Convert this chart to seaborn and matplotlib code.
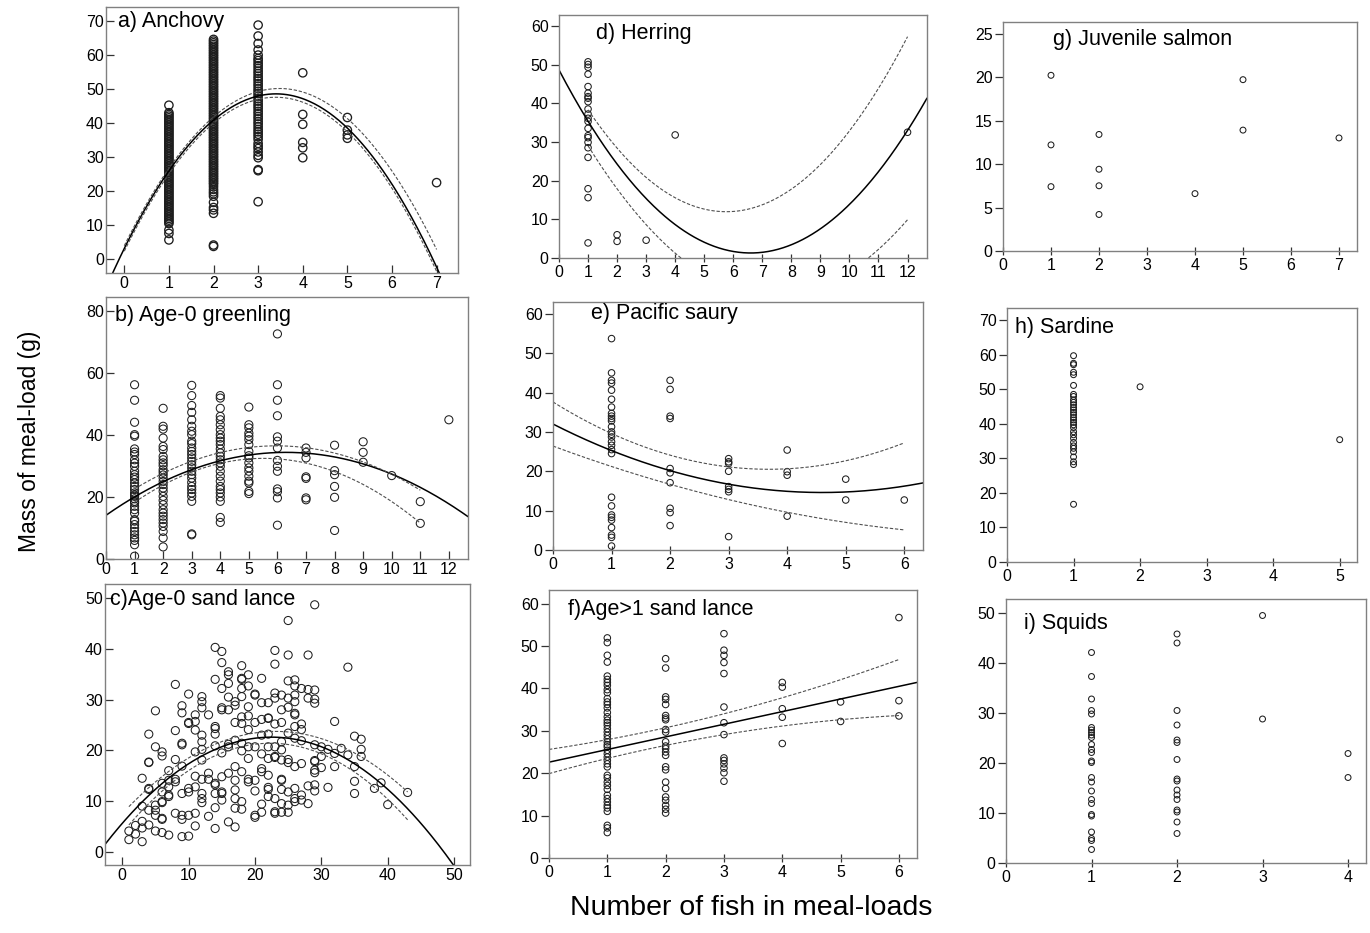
import numpy as np
import pandas as pd
import matplotlib
matplotlib.use("Agg")
import matplotlib.pyplot as plt
import seaborn as sns

# ---------------- DATA ----------------
# a) Anchovy : meal-load mass (g) by number of fish
anchovy = {
    1: [45.2, 43.0, 42.5, 42.0, 41.5, 41.0, 40.5, 40.0, 39.5, 39.0, 38.5, 38.0, 37.5, 37.0, 36.5, 36.0,
        35.5, 35.0, 34.5, 34.0, 33.5, 33.0, 32.5, 32.0, 31.5, 31.0, 30.5, 30.0, 29.5, 29.0, 28.5, 28.0,
        27.5, 27.0, 26.5, 26.0, 25.5, 25.0, 24.5, 24.0, 23.5, 23.0, 22.5, 22.0, 21.5, 21.0, 20.5, 20.0,
        19.5, 19.0, 18.5, 18.0, 17.5, 17.0, 16.5, 16.0, 15.5, 15.0, 14.5, 14.0, 13.5, 13.0, 12.5, 12.0,
        11.5, 11.0, 10.5, 8.6, 7.6, 5.7],
    2: [64.5, 64.0, 63.5, 63.0, 62.5, 62.0, 61.5, 61.0, 60.5, 60.0, 59.5, 59.0, 58.5, 58.0, 57.5, 57.0,
        56.5, 56.0, 55.5, 55.0, 54.5, 54.0, 53.5, 53.0, 52.5, 52.0, 51.5, 51.0, 50.5, 50.0, 49.5, 49.0,
        48.5, 48.0, 47.5, 47.0, 46.5, 46.0, 45.5, 45.0, 44.5, 44.0, 43.5, 43.0, 42.5, 42.0, 41.5, 41.0,
        40.5, 40.0, 39.5, 39.0, 38.5, 38.0, 37.5, 37.0, 36.5, 36.0, 35.5, 35.0, 34.5, 34.0, 33.5, 33.0,
        32.5, 32.0, 31.5, 31.0, 30.5, 30.0, 29.5, 29.0, 28.5, 28.0, 27.5, 27.0, 26.5, 26.0, 25.5, 25.0,
        24.5, 24.0, 23.5, 23.0, 22.5, 22.0, 21.3, 20.5, 19.8, 19.2, 18.5, 16.7, 15.2, 14.5, 13.5, 4.2, 3.8],
    3: [68.7, 65.5, 63.3, 61.4, 59.9, 58.9, 58.3, 57.5, 56.8, 56.0, 55.2, 54.5, 53.7, 53.0, 52.3, 51.5,
        50.8, 50.0, 49.3, 48.6, 47.9, 47.1, 46.4, 45.6, 44.9, 44.2, 43.4, 42.7, 41.9, 41.2, 40.4, 39.7,
        38.9, 38.1, 37.4, 36.7, 36.0, 35.2, 34.0, 33.2, 32.5, 31.5, 30.5, 29.8, 26.3, 26.0, 16.9],
    4: [54.7, 42.5, 39.6, 34.3, 32.7, 29.8],
    5: [41.6, 37.9, 36.5, 35.5],
    7: [22.5],
}
# b) Age-0 greenling
greenling = {
    1: [56.2, 51.2, 44.1, 40.1, 39.6, 35.5, 34.5, 33.7, 32.0, 30.9, 29.9, 28.3, 27.2, 26.4, 25.6, 24.5,
        23.4, 22.4, 21.3, 20.6, 20.2, 19.4, 18.6, 18.1, 17.0, 15.9, 14.8, 12.7, 12.2, 11.1, 10.0, 8.9,
        7.8, 6.8, 6.0, 4.6, 0.9],
    2: [48.6, 42.8, 41.9, 39.0, 36.3, 35.3, 33.1, 32.0, 31.0, 30.1, 28.8, 28.0, 27.1, 26.1, 25.0, 24.0,
        22.9, 21.8, 20.2, 18.9, 17.5, 15.9, 14.8, 13.8, 12.7, 11.6, 10.5, 8.9, 6.8, 3.9],
    3: [56.0, 52.7, 49.5, 47.3, 44.9, 42.8, 41.2, 40.1, 38.0, 37.2, 35.8, 34.7, 33.7, 32.6, 31.5, 30.4,
        29.4, 28.3, 27.2, 26.1, 24.7, 23.4, 22.4, 21.3, 20.2, 18.6, 8.1, 7.8],
    4: [52.7, 51.9, 48.6, 46.0, 44.9, 43.3, 41.7, 40.1, 39.0, 38.0, 36.9, 35.5, 34.2, 33.1, 32.0, 31.0,
        29.9, 28.3, 26.7, 25.1, 23.4, 22.4, 21.3, 20.0, 18.6, 13.4, 11.8],
    5: [49.0, 43.3, 42.3, 40.6, 39.6, 38.5, 36.9, 34.7, 33.3, 32.6, 31.0, 29.4, 28.3, 26.7, 25.1, 24.5,
        21.8, 21.1],
    6: [72.6, 56.2, 51.2, 46.2, 39.4, 38.0, 35.8, 31.8, 29.9, 28.3, 22.6, 21.7, 19.7, 10.9],
    7: [35.8, 34.4, 32.6, 26.5, 26.0, 19.7, 19.1],
    8: [36.7, 28.5, 27.2, 23.4, 19.9, 9.2],
    9: [37.8, 34.4, 31.2],
    10: [26.9],
    11: [18.5, 11.5],
    12: [44.9],
}
# c) Age-0 sand lance
sandlance0 = {
    1: [4.1, 2.4], 2: [3.5, 5.2], 3: [2.0, 4.7, 6.0, 9.0, 14.5],
    4: [5.3, 8.2, 12.3, 12.5, 17.6, 17.7, 23.2], 5: [4.1, 7.2, 8.2, 9.2, 20.7, 27.8],
    6: [3.8, 6.4, 6.6, 9.7, 9.9, 11.8, 13.5, 18.9, 19.7], 7: [3.3, 10.9, 11.2, 12.8, 14.1, 16.0],
    8: [7.6, 14.3, 13.8, 18.2, 23.9, 33.0], 9: [3.0, 6.4, 7.2, 11.5, 16.9, 21.4, 21.1, 27.4, 28.8],
    10: [3.1, 7.2, 11.8, 12.5, 25.3, 25.5, 31.1], 11: [5.1, 7.6, 12.8, 14.9, 19.7, 24.0, 25.7, 27.0],
    12: [9.7, 10.5, 11.5, 14.3, 18.1, 20.2, 21.7, 23.0, 28.4, 29.6, 30.6], 13: [7.0, 15.5, 14.3, 27.0],
    14: [4.6, 8.7, 11.5, 13.2, 13.5, 20.9, 23.2, 24.3, 24.7, 34.0, 40.3],
    15: [10.2, 11.5, 11.8, 14.8, 19.5, 28.0, 28.4, 32.2, 37.3, 39.5],
    16: [5.9, 15.5, 20.7, 21.2, 28.0, 30.5, 33.2, 34.9, 35.5],
    17: [4.9, 8.6, 10.5, 12.2, 14.1, 16.8, 22.0, 25.5, 28.9, 29.6],
    18: [8.4, 9.9, 15.8, 19.9, 21.4, 25.3, 26.6, 30.6, 32.2, 34.0, 34.2, 36.7],
    19: [13.8, 14.3, 18.4, 20.7, 24.1, 26.8, 28.6, 32.7, 34.9],
    20: [6.8, 7.2, 12.0, 14.1, 20.7, 25.5, 30.9, 31.1],
    21: [7.8, 9.4, 15.8, 16.4, 19.3, 23.0, 26.1, 29.4, 34.2],
    22: [10.9, 12.3, 12.7, 15.1, 18.4, 20.7, 23.2, 26.3, 26.4, 29.4],
    23: [7.6, 7.9, 10.5, 18.6, 18.8, 20.7, 25.2, 30.3, 31.3, 37.0, 39.7],
    24: [7.8, 9.5, 12.3, 14.3, 14.1, 18.1, 20.1, 21.7, 25.5, 28.0, 30.9],
    25: [7.8, 9.2, 11.8, 17.6, 18.2, 23.4, 28.5, 30.3, 33.7, 38.8, 45.6],
    26: [9.9, 10.5, 12.5, 16.8, 22.4, 24.7, 27.0, 27.3, 29.6, 30.9, 32.7, 33.9],
    27: [10.2, 11.2, 17.4, 21.9, 24.1, 25.2, 32.2], 28: [9.5, 13.0, 30.3, 32.0, 38.8],
    29: [12.0, 13.2, 15.6, 16.1, 17.8, 18.0, 21.1, 29.3, 30.1, 31.9, 48.7],
    30: [16.6, 18.8, 20.7], 31: [12.7, 20.2], 32: [16.8, 19.4, 25.7], 33: [20.4],
    34: [19.1, 36.4], 35: [11.5, 13.9, 16.8, 22.8], 36: [18.8, 20.2, 22.2],
    38: [12.5], 39: [13.6], 40: [9.3], 43: [11.7],
}
# d) Herring
herring = {
    1: [50.7, 50.0, 49.3, 47.5, 44.3, 42.6, 41.7, 41.3, 40.4, 38.5, 37.2, 36.1, 35.3, 33.5, 31.6, 31.1,
        29.9, 28.5, 26.0, 17.9, 15.6, 3.9],
    2: [6.0, 4.3], 3: [4.6], 4: [31.8], 12: [32.5],
}
# e) Pacific saury
saury = {
    1: [53.7, 45.0, 43.1, 42.4, 40.6, 38.3, 36.3, 34.7, 34.0, 33.4, 32.8, 31.3, 30.0, 29.4, 28.7, 27.5,
        26.6, 25.5, 24.5, 13.4, 11.2, 8.9, 8.3, 7.6, 5.7, 3.8, 3.2, 1.0],
    2: [43.1, 40.8, 34.0, 33.4, 20.7, 19.6, 17.1, 10.6, 9.5, 6.2],
    3: [23.2, 22.4, 22.0, 20.0, 16.1, 15.4, 14.8, 3.4],
    4: [25.4, 19.9, 19.0, 8.6], 5: [18.0, 12.7], 6: [12.7],
}
# f) Age>1 sand lance
sandlance1 = {
    1: [51.9, 50.8, 47.8, 46.2, 42.9, 42.1, 41.4, 40.7, 39.7, 39.0, 37.6, 36.8, 36.2, 35.4, 34.3, 33.3,
        32.5, 31.9, 31.3, 30.5, 29.7, 28.9, 28.1, 27.4, 26.7, 26.2, 25.4, 24.6, 23.8, 23.0, 22.2, 21.5,
        19.5, 18.9, 17.9, 17.1, 16.2, 14.8, 14.0, 13.2, 12.4, 11.8, 11.0, 7.7, 7.1, 6.0],
    2: [47.0, 44.8, 38.0, 37.4, 36.2, 33.6, 33.0, 32.6, 30.3, 29.7, 27.4, 26.4, 25.8, 25.0, 24.2, 21.5,
        20.8, 17.9, 16.4, 14.4, 13.6, 12.4, 11.5, 10.6],
    3: [52.9, 49.0, 47.8, 46.1, 43.5, 35.6, 31.9, 29.1, 23.6, 23.0, 22.2, 21.2, 20.1, 18.1],
    4: [41.4, 40.3, 35.2, 33.2, 27.0], 5: [36.8, 32.2], 6: [56.7, 37.1, 33.5],
}
# g) Juvenile salmon
salmon = {1: [20.2, 12.2, 7.4], 2: [13.4, 9.4, 7.5, 4.2], 4: [6.6], 5: [19.7, 13.9], 7: [13.0]}
# h) Sardine
sardine = {
    1: [59.7, 57.5, 57.1, 54.9, 54.2, 51.1, 48.5, 47.9, 46.9, 46.2, 45.5, 44.7, 44.0, 43.3, 42.6, 41.8,
        41.1, 40.4, 39.7, 38.9, 37.7, 36.8, 35.8, 34.6, 33.6, 32.9, 31.9, 30.4, 29.0, 28.2, 16.7],
    2: [50.7], 5: [35.4],
}
# i) Squids
squids = {
    1: [42.1, 37.3, 32.8, 30.5, 29.8, 27.1, 26.6, 26.1, 25.6, 25.1, 23.7, 22.7, 22.1, 20.4, 20.1, 17.1,
        16.2, 14.4, 12.7, 11.9, 9.7, 9.4, 6.2, 4.9, 4.5, 2.7],
    2: [45.8, 44.0, 30.5, 27.6, 24.6, 24.1, 20.7, 16.8, 16.4, 14.6, 13.6, 12.7, 10.6, 10.2, 8.2, 5.9],
    3: [49.5, 28.8], 4: [21.9, 17.1],
}

# fitted curves: polynomial coefficients [c2, c1, c0] (fit, upper CI, lower CI)
anchovy_fit = [-3.92, 26.66, 3.2]
anchovy_up = [-3.808, 26.50, 4.0]
anchovy_lo = [-3.922, 26.61, 2.4]
greenling_fit = [-0.511, 6.44, 14.1]
greenling_up = [-0.564, 6.728, 16.436]
greenling_lo = [-0.694, 7.658, 11.336]
sandlance0_fit = [-0.03357, 1.5107, 5.61]
sandlance0_up = [-0.03027, 1.401, 7.529]
sandlance0_lo = [-0.03537, 1.5803, 3.755]
herring_fit = [1.086, -14.335, 48.6]
herring_up = [1.162, -13.388, 50.526]
herring_lo = [0.9392, -13.947, 42.008]
saury_fit = [0.822, -7.562, 32.0]
saury_up = [1.256, -9.267, 37.6]
saury_lo = [0.328, -5.517, 26.4]
sandlance1_fit = [0.0, 2.98, 22.6]
sandlance1_up = [0.2444, 2.067, 25.6]
sandlance1_lo = [-0.2611, 3.85, 19.9]

titles = ["a) Anchovy", "b) Age-0 greenling", "c)Age-0 sand lance", "d) Herring",
          "e) Pacific saury", "f)Age>1 sand lance", "g) Juvenile salmon", "h) Sardine", "i) Squids"]
xlabel = "Number of fish in meal-loads"
ylabel = "Mass of meal-load (g)"

# ---------------- STYLE / LAYOUT ----------------
sns.set_style("ticks")
plt.rcParams["font.family"] = ["Liberation Sans", "DejaVu Sans"]
plt.rcParams["text.color"] = "#000000"

W, H = 1370, 933
fig = plt.figure(figsize=(W / 100, H / 100), dpi=100)


def frac_rect(l, t, r, b):
    return [l / W, 1 - b / H, (r - l) / W, (b - t) / H]


def to_df(d):
    xs, ys = [], []
    for k, vals in d.items():
        xs += [k] * len(vals)
        ys += list(vals)
    return pd.DataFrame({"n": xs, "mass": ys})


def curve(ax, coef, x0, x1, dashed=False):
    xx = np.linspace(x0, x1, 300)
    df = pd.DataFrame({"n": xx, "mass": np.polyval(coef, xx)})
    if dashed:
        sns.lineplot(data=df, x="n", y="mass", ax=ax, color="#505050", lw=0.8,
                     linestyle=(0, (3, 1.6)), sort=False)
    else:
        sns.lineplot(data=df, x="n", y="mass", ax=ax, color="#000000", lw=1.1, sort=False)


panels = [
    # key, data, rect(px l,t,r,b), xlim, ylim, xticks, yticks, marker s, edge lw, ydir, xdir
    ("a", anchovy, (106, 7, 458, 273), (-0.41, 7.48), (-4.0, 74.0), range(0, 8), range(0, 71, 10), 36, 0.95, "in", "in"),
    ("b", greenling, (106, 297, 468, 559), (0, 12.67), (0, 84.5), range(0, 13), range(0, 81, 20), 34, 0.75, "in", "in"),
    ("c", sandlance0, (105, 584, 470, 865), (-2.6, 52.4), (-2.6, 52.8), range(0, 51, 10), range(0, 51, 10), 34, 0.75, "in", "in"),
    ("d", herring, (559, 15, 927, 258), (0, 12.67), (0, 62.8), range(0, 13), range(0, 61, 10), 22, 0.75, "out", "inout"),
    ("e", saury, (553, 302, 923, 550), (0, 6.32), (0, 63.0), range(0, 7), range(0, 61, 10), 22, 0.75, "out", "inout"),
    ("f", sandlance1, (549, 590, 917, 858), (0, 6.31), (0, 63.2), range(0, 7), range(0, 61, 10), 22, 0.75, "out", "inout"),
    ("g", salmon, (1003, 22, 1357, 251), (0, 7.375), (0, 26.33), range(0, 8), range(0, 26, 5), 18, 0.75, "out", "inout"),
    ("h", sardine, (1007, 308, 1357, 562), (0, 5.26), (0, 73.5), range(0, 6), range(0, 71, 10), 18, 0.75, "out", "inout"),
    ("i", squids, (1006, 599, 1366, 863), (0, 4.21), (0, 52.8), range(0, 5), range(0, 51, 10), 18, 0.75, "out", "inout"),
]

title_pos = {"a": (118, 22), "b": (115, 316), "c": (110, 600), "d": (596, 33), "e": (591, 314),
             "f": (568, 610), "g": (1053, 39), "h": (1015, 328), "i": (1024, 624)}

fits = {
    "a": (anchovy_fit, anchovy_up, anchovy_lo, (-0.5, 7.6), (0, 7)),
    "b": (greenling_fit, greenling_up, greenling_lo, (0, 12.67), (1, 11)),
    "c": (sandlance0_fit, sandlance0_up, sandlance0_lo, (-2.6, 52.4), (1, 43)),
    "d": (herring_fit, herring_up, herring_lo, (0, 12.67), (1, 12)),
    "e": (saury_fit, saury_up, saury_lo, (0, 6.32), (0, 6)),
    "f": (sandlance1_fit, sandlance1_up, sandlance1_lo, (0, 6.31), (0, 6)),
}

for i, (key, data, rect, xl, yl, xt, yt, ms, elw, ydir, xdir) in enumerate(panels):
    ax = fig.add_axes(frac_rect(*rect))
    df = to_df(data)
    sns.scatterplot(data=df, x="n", y="mass", ax=ax, marker="o", s=ms,
                    facecolors="none", edgecolor="#1e1e1e", linewidth=elw, legend=False)
    if key in fits:
        f, up, lo, r_fit, r_ci = fits[key]
        curve(ax, f, *r_fit)
        curve(ax, up, *r_ci, dashed=True)
        curve(ax, lo, *r_ci, dashed=True)
    ax.set_xlim(*xl)
    ax.set_ylim(*yl)
    ax.set_xticks(list(xt))
    ax.set_yticks(list(yt))
    ax.set_xlabel("")
    ax.set_ylabel("")
    ax.tick_params(axis="y", left=True, direction=ydir, length=6, width=0.9, color="#333333",
                   labelsize=11.5, labelcolor="#000000", pad=1.5)
    ax.tick_params(axis="x", bottom=True, direction=xdir, length=6, width=0.9, color="#333333",
                   labelsize=11.5, labelcolor="#000000", pad=2)
    for sp in ax.spines.values():
        sp.set_visible(True)
        sp.set_color("#808080")
        sp.set_linewidth(1.0)
    tx, ty = title_pos[key]
    fig.text(tx / W, 1 - ty / H, titles[i], fontsize=15.5, va="center", ha="left", color="#000000")

fig.text(751 / W, 1 - 908 / H, xlabel, fontsize=20.5, ha="center", va="center", color="#000000")
fig.text(30 / W, 1 - 441 / H, ylabel, fontsize=16.5, ha="center", va="center", rotation=90, color="#000000")

fig.savefig("out.png", dpi=100)
